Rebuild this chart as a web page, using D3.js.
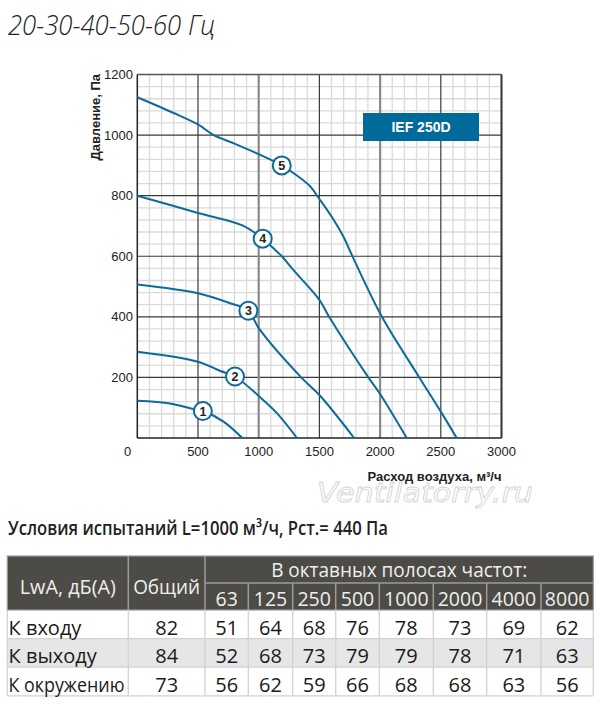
<!DOCTYPE html>
<html>
<head>
<meta charset="utf-8">
<script src="https://cdn.jsdelivr.net/npm/d3@7"></script>
<style>
  body { margin: 0; background: #fff; }
  svg { display: block; }
</style>
</head>
<body>
<script>
// fan curves, [flow m3/h, pressure Pa]
const curve1 = [[0,123],[270,114],[435,98],[540,89],[710,54],[865,0]];
const curve2 = [[0,285],[500,252],[680,222],[805,203],[1005,137],[1150,82],[1315,0]];
const curve3 = [[0,507],[500,478],[765,445],[915,420],[1005,360],[1350,200],[1500,142],[1786,0]];
const curve4 = [[0,800],[500,743],[870,701],[1033,658],[1120,627],[1190,600],[1285,555],[1500,456],[1580,400],[1903,200],[2000,145],[2219,0]];
const curve5 = [[0,1125],[300,1073],[500,1035],[630,1000],[800,972],[1000,937],[1190,900],[1285,875],[1423,831],[1500,789],[1600,731],[1697,665],[1779,594],[2015,400],[2323,200],[2500,87],[2631,0]];
const curves = [curve1, curve2, curve3, curve4, curve5];

const markerFlow = [540, 805, 915, 1033, 1190];
const markerPressure = [89, 203, 420, 658, 900];
const markerLabels = ["1", "2", "3", "4", "5"];

const xTicks = [500, 1000, 1500, 2000, 2500, 3000];
const yTicks = [200, 400, 600, 800, 1000, 1200];

// noise table
const headCols = ["63", "125", "250", "500", "1000", "2000", "4000", "8000"];
const rowNames = ["К входу", "К выходу", "К окружению"];
const totalLevel = [82, 84, 73];
const inletLevels = [51, 64, 68, 76, 78, 73, 69, 62];
const outletLevels = [52, 68, 73, 79, 79, 78, 71, 63];
const ambientLevels = [56, 62, 59, 66, 68, 68, 63, 56];
const bandLevels = [inletLevels, outletLevels, ambientLevels];

const blue = "#0b6c9c";
const fontUI = "'Open Sans', 'Noto Sans', sans-serif";
const fontAx = "'Liberation Sans', Arial, sans-serif";

const svg = d3.select("body").append("svg").attr("width", 600).attr("height", 704);

// shrink text if it is wider than the room it has
function fit(sel, maxW) {
  sel.each(function () {
    if (this.getComputedTextLength() > maxW) {
      d3.select(this).attr("textLength", maxW).attr("lengthAdjust", "spacingAndGlyphs");
    }
  });
}

svg.append("text")
  .attr("x", 8).attr("y", 35)
  .attr("font-family", fontUI).attr("font-style", "italic").attr("font-weight", 300)
  .attr("font-size", 27).attr("fill", "#222")
  .text("20-30-40-50-60 Гц")
  .call(fit, 207);

// ---- chart
const x = d3.scaleLinear().domain([0, 3000]).range([137.3, 501.5]);
const y = d3.scaleLinear().domain([0, 1200]).range([438, 74.5]);

const grid = svg.append("g");
grid.selectAll(".vmin").data(d3.range(100, 3000, 100).filter(v => v % 500)).join("line")
  .attr("x1", d => x(d)).attr("x2", d => x(d)).attr("y1", y(0)).attr("y2", y(1200))
  .attr("stroke", "#dadada").attr("stroke-width", 1.3);
grid.selectAll(".hmin").data(d3.range(40, 1200, 40).filter(v => v % 200)).join("line")
  .attr("y1", d => y(d)).attr("y2", d => y(d)).attr("x1", x(0)).attr("x2", x(3000))
  .attr("stroke", "#dadada").attr("stroke-width", 1.3);
grid.selectAll(".hmaj").data(yTicks.slice(0, -1)).join("line")
  .attr("y1", d => y(d)).attr("y2", d => y(d)).attr("x1", x(0)).attr("x2", x(3000))
  .attr("stroke", "#3a3a3a").attr("stroke-width", 1.2);
grid.selectAll(".vmaj").data(xTicks.slice(0, -1)).join("line")
  .attr("x1", d => x(d)).attr("x2", d => x(d)).attr("y1", y(0)).attr("y2", y(1200))
  .attr("stroke", d => d % 1000 ? "#3a3a3a" : "#8a8a8a")
  .attr("stroke-width", d => d % 1000 ? 1.2 : 2.2);

// frame
grid.append("line").attr("x1", x(0)).attr("x2", x(3000)).attr("y1", y(1200)).attr("y2", y(1200))
  .attr("stroke", "#555").attr("stroke-width", 1.5);
grid.append("line").attr("x1", x(3000)).attr("x2", x(3000)).attr("y1", y(0)).attr("y2", y(1200))
  .attr("stroke", "#333").attr("stroke-width", 2);
grid.append("line").attr("x1", x(0)).attr("x2", x(3000)).attr("y1", y(0)).attr("y2", y(0))
  .attr("stroke", "#222").attr("stroke-width", 1.5);
grid.append("line").attr("x1", x(0)).attr("x2", x(0)).attr("y1", y(0)).attr("y2", y(1200))
  .attr("stroke", "#222").attr("stroke-width", 1.5);

// tick labels
svg.selectAll(".xl").data(xTicks).join("text")
  .attr("x", d => x(d)).attr("y", 456).attr("text-anchor", "middle")
  .attr("font-family", fontAx).attr("font-size", 13).attr("fill", "#222")
  .text(d => d);
svg.selectAll(".yl").data(yTicks).join("text")
  .attr("x", 133).attr("y", d => y(d) + 4.5).attr("text-anchor", "end")
  .attr("font-family", fontAx).attr("font-size", 13).attr("fill", "#222")
  .text(d => d);
svg.append("text").attr("x", 127.7).attr("y", 456).attr("text-anchor", "middle")
  .attr("font-family", fontAx).attr("font-size", 13).attr("fill", "#222").text("0");

svg.append("text")
  .attr("transform", "translate(100,74) rotate(-90)").attr("text-anchor", "end")
  .attr("font-family", fontAx).attr("font-weight", "bold").attr("font-size", 13).attr("fill", "#222")
  .text("Давление, Па").call(fit, 91);

// watermark, outlined letters
svg.append("text").attr("x", 317).attr("y", 501.5)
  .attr("font-family", "'DejaVu Sans', sans-serif").attr("font-style", "italic").attr("font-size", 26)
  .attr("fill", "#fff").attr("stroke", "#d4d4d4").attr("stroke-width", 0.8)
  .attr("textLength", 216).attr("lengthAdjust", "spacingAndGlyphs")
  .text("Ventilatorry.ru");

svg.append("text")
  .attr("x", 501.5).attr("y", 480.5).attr("text-anchor", "end")
  .attr("font-family", fontAx).attr("font-weight", "bold").attr("font-size", 13).attr("fill", "#222")
  .text("Расход воздуха, м³/ч").call(fit, 140);

// model badge
svg.append("rect").attr("x", 363).attr("y", 113).attr("width", 116).attr("height", 28).attr("fill", "#006b9b");
svg.append("text").attr("x", 421).attr("y", 132).attr("text-anchor", "middle")
  .attr("font-family", fontAx).attr("font-weight", "bold").attr("font-size", 14).attr("fill", "#fff")
  .text("IEF 250D");

const line = d3.line().x(d => x(d[0])).y(d => y(d[1])).curve(d3.curveCatmullRom.alpha(0.5));
svg.append("g").selectAll("path").data(curves).join("path")
  .attr("d", line).attr("fill", "none").attr("stroke", blue).attr("stroke-width", 2);

const marks = svg.append("g").selectAll("g").data(markerLabels).join("g")
  .attr("transform", (d, i) => `translate(${x(markerFlow[i])},${y(markerPressure[i])})`);
marks.append("circle").attr("r", 9).attr("fill", "#fff").attr("stroke", blue).attr("stroke-width", 2);
marks.append("text").attr("text-anchor", "middle").attr("dy", "0.36em")
  .attr("font-family", fontAx).attr("font-weight", "bold").attr("font-size", 12.5).attr("fill", "#222")
  .text(d => d);

svg.append("text")
  .attr("x", 8).attr("y", 535)
  .attr("font-family", fontUI).attr("font-weight", 600).attr("font-size", 20).attr("fill", "#222")
  .text("Условия испытаний  L=1000 м³/ч, Рст.= 440 Па")
  .call(fit, 380);

// ---- table
const colW = [121, 76.7, 43.3, 44.4, 43, 43.6, 54, 53.4, 54.3, 52.3];
const colX = [7.3];
colW.forEach(w => colX.push(colX[colX.length - 1] + w));
const tTop = 556, tMid = 583, tHead = 610, rowH = 28.6;
const dark = "#4c4b46";
const t = svg.append("g").attr("font-family", fontUI);

t.append("rect").attr("x", colX[0]).attr("y", tTop).attr("width", colX[10] - colX[0]).attr("height", tHead - tTop)
  .attr("fill", dark);
t.selectAll(".rowbg").data(rowNames).join("rect")
  .attr("x", colX[0]).attr("y", (d, i) => tHead + i * rowH)
  .attr("width", colX[10] - colX[0]).attr("height", rowH)
  .attr("fill", (d, i) => i === 1 ? "#e6e6e6" : "#fff");

// header borders
const hb = "#9b9b9b";
t.append("line").attr("x1", colX[2]).attr("x2", colX[10]).attr("y1", tMid).attr("y2", tMid).attr("stroke", hb).attr("stroke-width", 1.5);
t.selectAll(".hv").data(d3.range(1, 10)).join("line")
  .attr("x1", i => colX[i]).attr("x2", i => colX[i])
  .attr("y1", i => i > 2 ? tMid : tTop).attr("y2", tHead)
  .attr("stroke", hb).attr("stroke-width", 1.5);
t.append("rect").attr("x", colX[0]).attr("y", tTop).attr("width", colX[10] - colX[0]).attr("height", tHead - tTop)
  .attr("fill", "none").attr("stroke", hb).attr("stroke-width", 1.2);

// body borders
const bb = "#d2d2d2";
t.selectAll(".bv").data(d3.range(0, 11)).join("line")
  .attr("x1", i => colX[i]).attr("x2", i => colX[i])
  .attr("y1", tHead).attr("y2", tHead + 3 * rowH)
  .attr("stroke", bb).attr("stroke-width", 1.3);
t.selectAll(".bh").data(d3.range(1, 4)).join("line")
  .attr("x1", colX[0]).attr("x2", colX[10])
  .attr("y1", i => tHead + i * rowH).attr("y2", i => tHead + i * rowH)
  .attr("stroke", bb).attr("stroke-width", 1.3);

const hText = "#efefef";
t.append("text").attr("x", (colX[0] + colX[1]) / 2).attr("y", 593.5).attr("text-anchor", "middle")
  .attr("font-size", 20).attr("fill", hText).text("LwA, дБ(А)").call(fit, 96);
t.append("text").attr("x", (colX[1] + colX[2]) / 2).attr("y", 593.5).attr("text-anchor", "middle")
  .attr("font-size", 20).attr("fill", hText).text("Общий").call(fit, 67);
t.append("text").attr("x", (colX[2] + colX[10]) / 2).attr("y", 577).attr("text-anchor", "middle")
  .attr("font-size", 20).attr("fill", hText).text("В октавных полосах частот:").call(fit, 256);
t.selectAll(".hc").data(headCols).join("text")
  .attr("x", (d, i) => (colX[i + 2] + colX[i + 3]) / 2).attr("y", 606).attr("text-anchor", "middle")
  .attr("font-size", 19.5).attr("fill", hText).text(d => d)
  .call(fit, 45);

const rows = t.selectAll(".row").data(rowNames).join("g")
  .attr("transform", (d, i) => `translate(0,${tHead + i * rowH})`);
rows.append("text").attr("x", 8.5).attr("y", 24.5)
  .attr("font-size", 20).attr("fill", "#1a1a1a").text(d => d)
  .call(fit, 116);
rows.append("text").attr("x", (colX[1] + colX[2]) / 2).attr("y", 24.5).attr("text-anchor", "middle")
  .attr("font-size", 20).attr("fill", "#1a1a1a").text((d, i) => totalLevel[i]);
rows.each(function (d, r) {
  d3.select(this).selectAll(".v").data(bandLevels[r]).join("text")
    .attr("x", (v, i) => (colX[i + 2] + colX[i + 3]) / 2).attr("y", 24.5).attr("text-anchor", "middle")
    .attr("font-size", 20).attr("fill", "#1a1a1a").text(v => v);
});
</script>
</body>
</html>
